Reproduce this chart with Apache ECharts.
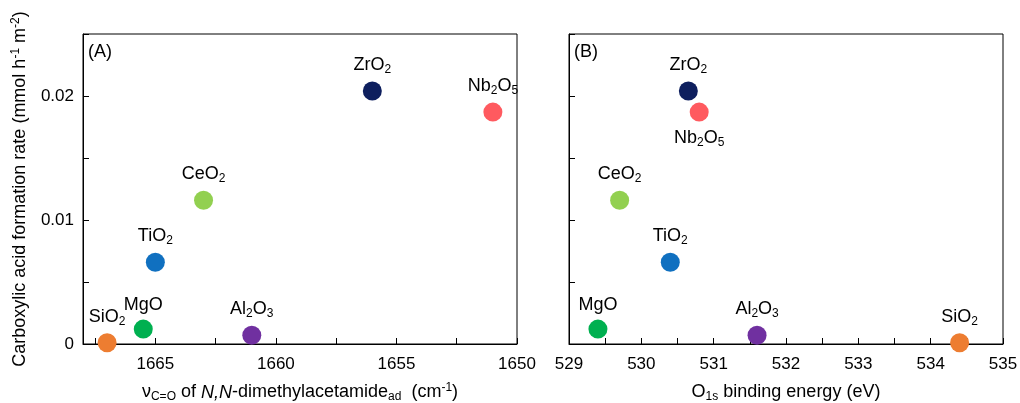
<!DOCTYPE html>
<html><head><meta charset="utf-8">
<script src="https://cdn.jsdelivr.net/npm/echarts@6/dist/echarts.min.js"></script>
<style>html,body{margin:0;padding:0;background:#fff}#c{width:1020px;height:403px}</style>
</head><body><div id="c"></div>
<script>
// Data
const catalysts = ['SiO2','MgO','TiO2','CeO2','Al2O3','ZrO2','Nb2O5'];
const catalystLabels = ['SiO{s|2}','MgO','TiO{s|2}','CeO{s|2}','Al{s|2}O{s|3}','ZrO{s|2}','Nb{s|2}O{s|5}'];
const colors = ['#ED7D31','#00B050','#1070C0','#92D050','#7030A0','#0E1F5E','#FF5A5F'];
const rate = [0.0001, 0.0012, 0.0066, 0.0116, 0.0007, 0.0204, 0.0187];       // mmol h-1 m-2
const nuCO = [1667.0, 1665.5, 1665.0, 1663.0, 1661.0, 1656.0, 1651.0];     // cm-1
const o1s = [534.4, 529.4, 530.4, 529.7, 531.6, 530.65, 530.8];           // eV
const labelPosB = ['top','top','top','top','top','top','bottom'];

const FONT = 'Liberation Sans, Arial, sans-serif';
const txt = {color:'#000', fontFamily: FONT, fontSize:17};
const rich = {
  s:{fontSize:12, verticalAlign:'bottom', padding:[9,0,0,0], color:'#000', fontFamily:FONT},
  p:{fontSize:12, verticalAlign:'top', padding:[0,0,9,0], color:'#000', fontFamily:FONT},
  i:{fontSize:18, fontStyle:'italic', color:'#000', fontFamily:FONT},
  n:{fontSize:18, color:'#000', fontFamily:FONT}
};

function yFmt(v){ if (Math.abs(v) < 1e-9) return '0'; const k=v*100; return Math.abs(k-Math.round(k))<1e-6 ? v.toFixed(2) : ''; }

const gridA = {left:83, right:503, top:34, bottom:59, show:true, borderColor:'#000', borderWidth:1, containLabel:false, outerBoundsMode:'none'};
const gridB = {left:569, right:17, top:34, bottom:59, show:true, borderColor:'#000', borderWidth:1, containLabel:false, outerBoundsMode:'none'};

function axisCommon(){
  return {
    axisLine:{show:true, onZero:false, lineStyle:{color:'#000', width:1}},
    axisTick:{show:true, inside:true, length:6, lineStyle:{color:'#000'}},
    splitLine:{show:false},
    axisLabel:Object.assign({margin:9}, txt)
  };
}

function mkSeries(xs, gi, posArr){
  return catalysts.map((c,i)=>({
    type:'scatter', name:c+(gi?'B':'A'), xAxisIndex:gi, yAxisIndex:gi,
    symbolSize:19, itemStyle:{color:colors[i], opacity:1},
    data:[[xs[i], rate[i]]],
    clip:false,
    label:{show:true, position:posArr?posArr[i]:'top', distance:6,
      formatter:catalystLabels[i], color:'#000', fontFamily:FONT, fontSize:18, rich:rich}
  }));
}

const chart = echarts.init(document.getElementById('c'), null, {renderer:'canvas'});
chart.setOption({
  animation:false,
  backgroundColor:'#fff',
  grid:[gridA, gridB],
  xAxis:[
    Object.assign(axisCommon(), {gridIndex:0, type:'value', min:1650, max:1668, interval:2.5, inverse:true,
      axisLabel:Object.assign({margin:12, formatter:v=> (Math.abs(v/5-Math.round(v/5))<1e-6 ? String(v) : '')}, txt),
      name:'ν{s|C=O} of {i|N,N}{n|-dimethylacetamide}{s|ad}  (cm{p|-1})', nameLocation:'middle', nameGap:38,
      nameTextStyle:{color:'#000', fontFamily:FONT, fontSize:18, rich:rich}}),
    Object.assign(axisCommon(), {gridIndex:1, type:'value', min:529, max:535, interval:0.5,
      axisLabel:Object.assign({margin:12, formatter:v=> (Math.abs(v-Math.round(v))<1e-6 ? String(v) : '')}, txt),
      name:'O{s|1s} binding energy (eV)', nameLocation:'middle', nameGap:38,
      nameTextStyle:{color:'#000', fontFamily:FONT, fontSize:18, rich:rich}})
  ],
  yAxis:[
    Object.assign(axisCommon(), {gridIndex:0, type:'value', min:0, max:0.025, interval:0.005,
      axisLabel:Object.assign({margin:9, formatter:yFmt}, txt),
      name:'Carboxylic acid formation rate (mmol h{p|-1} m{p|-2})', nameLocation:'middle', nameGap:52, nameRotate:90,
      nameTextStyle:{color:'#000', fontFamily:FONT, fontSize:18, rich:rich}}),
    Object.assign(axisCommon(), {gridIndex:1, type:'value', min:0, max:0.025, interval:0.005,
      axisLabel:{show:false}})
  ],
  graphic:[
    {type:'text', left:88, top:43, style:{text:'(A)', fill:'#000', font:'18px '+FONT}},
    {type:'text', left:574, top:43, style:{text:'(B)', fill:'#000', font:'18px '+FONT}}
  ],
  series:[].concat(mkSeries(nuCO,0,null), mkSeries(o1s,1,labelPosB))
});
</script></body></html>
